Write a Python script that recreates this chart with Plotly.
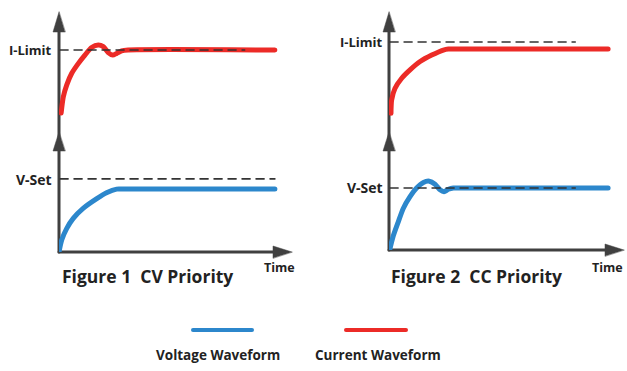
import plotly.graph_objects as go

W, H = 627, 371

# ---- data ----
fig1_current_t = [0.1, 0.2, 0.36, 0.59, 0.89, 1.2, 1.51, 1.82, 2.05, 2.28, 2.49, 2.67, 2.9, 3.2, 10]
fig1_current_v = [0.26, 0.45, 0.59, 0.726, 0.84, 0.94, 1.03, 1.06, 1.04, 0.97, 0.94, 0.96, 0.99, 1.0, 1.0]
fig1_voltage_t = [0, 0.125, 0.36, 0.66, 1.13, 1.75, 2.2, 2.67, 3.0, 10]
fig1_voltage_v = [0, 0.164, 0.324, 0.46, 0.60, 0.73, 0.81, 0.86, 0.86, 0.86]

fig2_current_t = [0.09, 0.12, 0.27, 0.58, 0.96, 1.42, 1.95, 2.48, 2.71, 3.0, 10]
fig2_current_v = [0.233, 0.376, 0.50, 0.61, 0.70, 0.79, 0.86, 0.914, 0.925, 0.925, 0.925]
fig2_voltage_t = [0.03, 0.18, 0.42, 0.65, 0.96, 1.26, 1.57, 1.84, 2.1, 2.33, 2.51, 2.71, 2.94, 3.2, 10]
fig2_voltage_v = [0, 0.21, 0.45, 0.67, 0.86, 1.0, 1.09, 1.11, 1.06, 0.97, 0.94, 0.98, 1.0, 1.0, 1.0]

i_limit = 1.0
v_set = 1.0
fig1_dash_end = [8.6, 10.0]   # current, voltage
fig2_dash_end = [8.5, 8.5]

figure_titles = ["Figure 1  CV Priority", "Figure 2  CC Priority"]
legend_labels = ["Voltage Waveform", "Current Waveform"]

BLUE = "#2C87CC"
RED = "#EC2B27"
AX = "#404040"
TXT = "#222222"
FONT = "Open Sans"

def px(x):
    return x / W

def py(y):
    return 1 - y / H

fig = go.Figure()

panels = [
    ("x", "y", (59, 290), (12, 135), [0, 10.7], [0, 1.447]),
    ("x2", "y2", (59, 290), (135, 252), [0, 10.7], [0, 1.6]),
    ("x3", "y3", (389, 623), (12, 135), [0, 10.68], [0, 1.323]),
    ("x4", "y4", (389, 623), (135, 250), [0, 10.68], [0, 1.855]),
]

layout_axes = {}
for i, (xa, ya, xd, yd, xr, yr) in enumerate(panels):
    n = "" if i == 0 else str(i + 1)
    common = dict(visible=False, showgrid=False, zeroline=False, fixedrange=True)
    layout_axes["xaxis" + n] = dict(domain=[px(xd[0]), px(xd[1])], range=xr, anchor=ya, **common)
    layout_axes["yaxis" + n] = dict(domain=[py(yd[1]), py(yd[0])], range=yr, anchor=xa, **common)

curves = [
    (fig1_current_t, fig1_current_v, RED, "x", "y", i_limit, fig1_dash_end[0]),
    (fig1_voltage_t, fig1_voltage_v, BLUE, "x2", "y2", v_set, fig1_dash_end[1]),
    (fig2_current_t, fig2_current_v, RED, "x3", "y3", i_limit, fig2_dash_end[0]),
    (fig2_voltage_t, fig2_voltage_v, BLUE, "x4", "y4", v_set, fig2_dash_end[1]),
]
for t, v, c, xa, ya, lvl, dend in curves:
    fig.add_trace(go.Scatter(x=t, y=v, mode="lines", xaxis=xa, yaxis=ya,
                             line=dict(color=c, width=5, shape="spline", smoothing=0.7),
                             showlegend=False, hoverinfo="skip"))
for t, v, c, xa, ya, lvl, dend in curves:
    fig.add_trace(go.Scatter(x=[0.05, dend], y=[lvl, lvl], mode="lines", xaxis=xa, yaxis=ya,
                             line=dict(color="#333333", width=1.6, dash="8px,6px"),
                             showlegend=False, hoverinfo="skip"))

shapes = []

def line(x0, y0, x1, y1, color=AX, width=3):
    shapes.append(dict(type="line", xref="paper", yref="paper",
                       x0=px(x0), y0=py(y0), x1=px(x1), y1=py(y1),
                       line=dict(color=color, width=width), layer="below"))

def tri(points, color=AX):
    path = "M " + " L ".join(f"{px(a)},{py(b)}" for a, b in points) + " Z"
    shapes.append(dict(type="path", xref="paper", yref="paper", path=path,
                       fillcolor=color, line=dict(color=color, width=0.5)))

for ox, base_y in [(59, 252), (389, 250)]:
    line(ox, 28, ox, base_y)
    tri([(ox, 12), (ox - 6, 32), (ox + 6, 32)])
    tri([(ox, 132), (ox - 6, 151), (ox + 6, 151)])
    tip = 292 if ox == 59 else 624
    line(ox, base_y, tip - 16, base_y)
    tri([(tip, base_y), (tip - 19, base_y - 6), (tip - 19, base_y + 6)])

shapes.append(dict(type="line", xref="paper", yref="paper", x0=px(193), x1=px(252), y0=py(330), y1=py(330),
                   line=dict(color=BLUE, width=4)))
shapes.append(dict(type="line", xref="paper", yref="paper", x0=px(346), x1=px(406), y0=py(330), y1=py(330),
                   line=dict(color=RED, width=4)))

annotations = []

def text(s, x, y, size, xanchor="center"):
    annotations.append(dict(text=f"<b>{s}</b>", x=px(x), y=py(y), xref="paper", yref="paper",
                            showarrow=False, xanchor=xanchor, yanchor="middle",
                            font=dict(family=FONT, size=size, color=TXT)))

text("I-Limit", 54, 50, 13, "right")
text("V-Set", 54, 179, 14, "right")
text("I-Limit", 385, 42, 13, "right")
text("V-Set", 385, 188, 14, "right")
text("Time", 279, 267, 12.5)
text("Time", 607, 267, 12.5)
text(figure_titles[0], 147, 276, 17.5)
text(figure_titles[1], 476, 276, 17.5)
text(legend_labels[0], 218, 355, 13.5)
text(legend_labels[1], 378, 355, 13.5)

fig.update_layout(width=W, height=H, margin=dict(l=0, r=0, t=0, b=0),
                  paper_bgcolor="white", plot_bgcolor="white",
                  shapes=shapes, annotations=annotations, **layout_axes)

post = ("document.body.style.margin='0';document.body.style.overflow='hidden';"
        "document.querySelectorAll('.scatterlayer path.js-line, .shapelayer path')"
        ".forEach(function(p){p.style.strokeLinecap='round';});")
fig.write_html("out.html", config={"displayModeBar": False}, post_script=post)
